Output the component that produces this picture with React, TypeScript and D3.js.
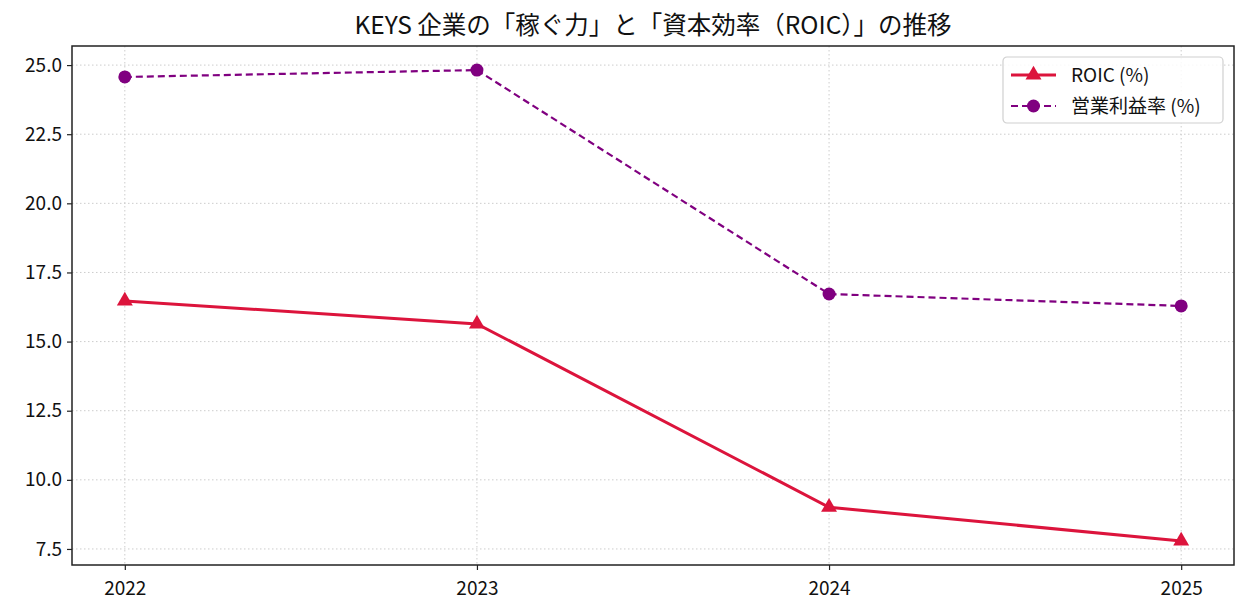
import * as d3 from 'd3';
import { useEffect, useRef } from 'react';

const YEARS = [2022, 2023, 2024, 2025];
const ROIC = [16.47, 15.64, 9.01, 7.79];
const OP_MARGIN = [24.57, 24.82, 16.72, 16.29];
const Y_TICKS = [7.5, 10.0, 12.5, 15.0, 17.5, 20.0, 22.5, 25.0];
const TITLE = 'KEYS 企業の「稼ぐ力」と「資本効率（ROIC）」の推移';
const LEGEND = ['ROIC (%)', '営業利益率 (%)'];

const FONT = '"Noto Sans CJK JP", "DejaVu Sans", sans-serif';
const WIDTH = 1249;
const HEIGHT = 616;

function App() {
  const svgRef = useRef<SVGSVGElement>(null);

  useEffect(() => {
    if (!svgRef.current) { return; }
    const svg = d3.select(svgRef.current);
    svg.selectAll('*').remove();

    const pad = { top: 46, right: 15, bottom: 51, left: 72 };
    const chartW = WIDTH - pad.left - pad.right;
    const chartH = HEIGHT - pad.top - pad.bottom;

    const x = d3.scaleLinear().domain([2021.85, 2025.15]).range([0, chartW]);
    const y = d3.scaleLinear().domain([6.92, 25.69]).range([chartH, 0]);

    svg.append('rect').attr('width', WIDTH).attr('height', HEIGHT).attr('fill', '#fff');

    const g = svg.append('g').attr('transform', `translate(${pad.left},${pad.top})`);

    // grid
    g.append('g').selectAll('line').data(YEARS).join('line')
      .attr('x1', d => x(d)).attr('x2', d => x(d))
      .attr('y1', 0).attr('y2', chartH)
      .attr('stroke', '#cccccc').attr('stroke-width', 1).attr('stroke-dasharray', '1.5,2.5');
    g.append('g').selectAll('line').data(Y_TICKS).join('line')
      .attr('x1', 0).attr('x2', chartW)
      .attr('y1', d => y(d)).attr('y2', d => y(d))
      .attr('stroke', '#cccccc').attr('stroke-width', 1).attr('stroke-dasharray', '1.5,2.5');

    // axes
    const xAxis = g.append('g').attr('transform', `translate(0,${chartH})`)
      .call(d3.axisBottom(x).tickValues(YEARS).tickFormat(d3.format('d')).tickSize(5).tickPadding(8));
    const yAxis = g.append('g')
      .call(d3.axisLeft(y).tickValues(Y_TICKS).tickFormat(d3.format('.1f')).tickSize(5).tickPadding(5));
    [xAxis, yAxis].forEach(ax => {
      ax.select('.domain').remove();
      ax.selectAll('line').attr('stroke', '#222').attr('stroke-width', 1.2);
      ax.selectAll('text').attr('fill', '#111').attr('font-size', 19).attr('font-family', FONT);
    });
    xAxis.selectAll('text').attr('dy', '0.9em');

    g.append('rect').attr('width', chartW).attr('height', chartH)
      .attr('fill', 'none').attr('stroke', '#222').attr('stroke-width', 1.5);

    const line = d3.line<number>().x((_, i) => x(YEARS[i])).y(d => y(d));

    // operating margin
    g.append('path').datum(OP_MARGIN).attr('d', line)
      .attr('fill', 'none').attr('stroke', '#800080').attr('stroke-width', 2.2)
      .attr('stroke-dasharray', '7,4');
    g.append('g').selectAll('circle').data(OP_MARGIN).join('circle')
      .attr('cx', (_, i) => x(YEARS[i])).attr('cy', d => y(d)).attr('r', 6.5)
      .attr('fill', '#800080');

    // ROIC
    const tri = d3.symbol().type(d3.symbolTriangle).size(110);
    g.append('path').datum(ROIC).attr('d', line)
      .attr('fill', 'none').attr('stroke', '#dc143c').attr('stroke-width', 3);
    g.append('g').selectAll('path').data(ROIC).join('path')
      .attr('d', tri)
      .attr('transform', (d, i) => `translate(${x(YEARS[i])},${y(d)})`)
      .attr('fill', '#dc143c');

    // title
    svg.append('text')
      .attr('x', pad.left + chartW / 2).attr('y', 34)
      .attr('text-anchor', 'middle').attr('font-size', 24.5).attr('font-family', FONT)
      .attr('fill', '#111').text(TITLE);

    // legend
    const lg = svg.append('g').attr('transform', 'translate(1003,57)');
    lg.append('rect').attr('width', 220).attr('height', 66).attr('rx', 4)
      .attr('fill', '#fff').attr('fill-opacity', 0.85)
      .attr('stroke', '#d0d0d0').attr('stroke-width', 1.2);
    const r1 = lg.append('g').attr('transform', 'translate(0,18)');
    r1.append('line').attr('x1', 8).attr('x2', 53).attr('stroke', '#dc143c').attr('stroke-width', 3);
    r1.append('path').attr('d', tri).attr('transform', 'translate(30.5,0)').attr('fill', '#dc143c');
    r1.append('text').attr('x', 68).attr('dy', '0.35em').attr('font-size', 19)
      .attr('font-family', FONT).attr('fill', '#111').text(LEGEND[0]);
    const r2 = lg.append('g').attr('transform', 'translate(0,49)');
    r2.append('line').attr('x1', 8).attr('x2', 53).attr('stroke', '#800080').attr('stroke-width', 2.2)
      .attr('stroke-dasharray', '7,4');
    r2.append('circle').attr('cx', 30.5).attr('r', 6.5).attr('fill', '#800080');
    r2.append('text').attr('x', 68).attr('dy', '0.35em').attr('font-size', 19)
      .attr('font-family', FONT).attr('fill', '#111').text(LEGEND[1]);
  }, []);

  return (
    <svg
      ref={svgRef}
      width={WIDTH}
      height={HEIGHT}
      style={{ position: 'absolute', left: 0, top: 0, display: 'block' }}
    />
  );
}

export default App;
